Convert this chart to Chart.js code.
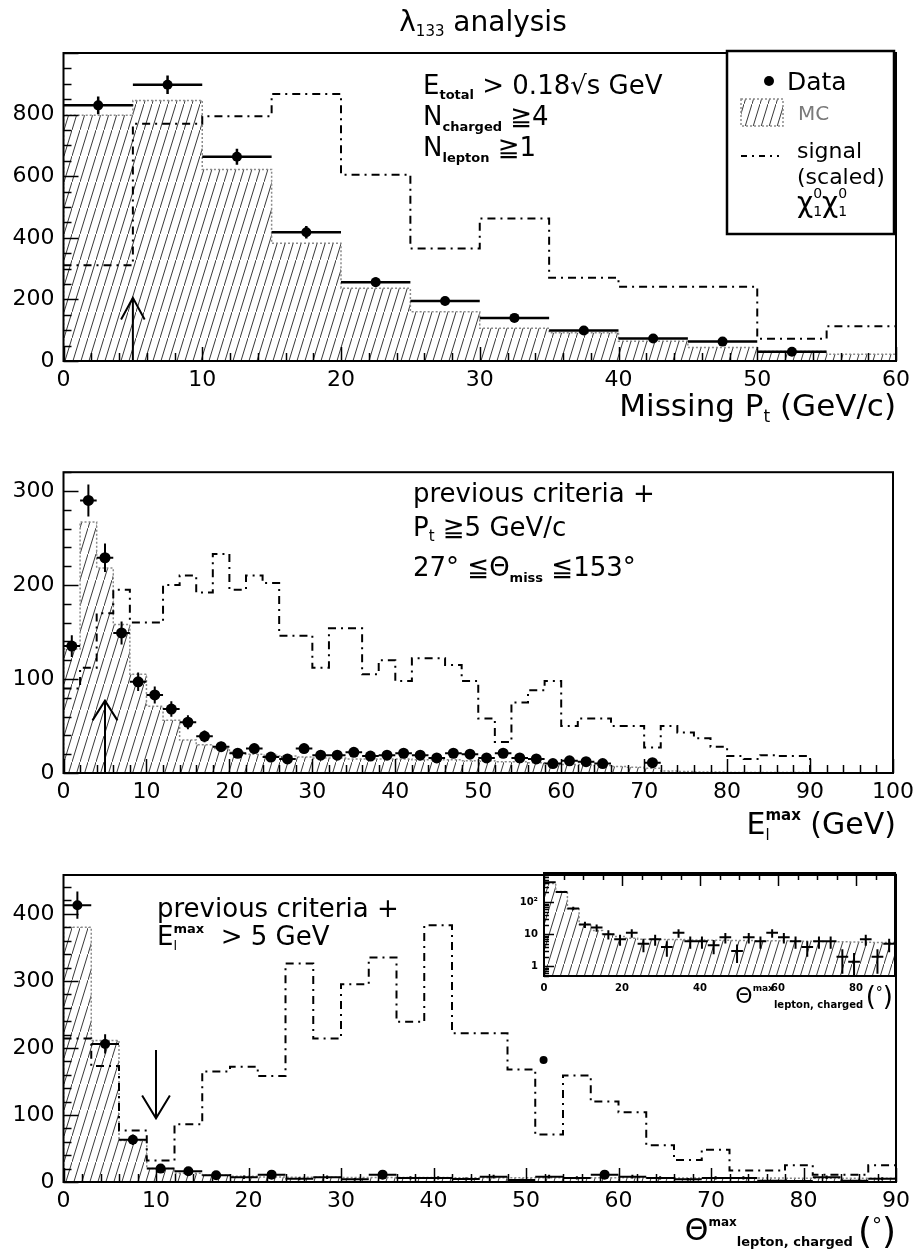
<!DOCTYPE html>
<html>
<head>
<meta charset="utf-8">
<script src="https://cdn.jsdelivr.net/npm/chart.js@4.4.1/dist/chart.umd.min.js"></script>
<style>
html,body{margin:0;padding:0;background:#fff;}
#wrap{position:relative;width:920px;height:1249px;overflow:hidden;background:#fff;}
canvas{position:absolute;display:block;}
</style>
</head>
<body>
<div id="wrap">
<canvas id="c1" width="920" height="450" style="left:0;top:0;"></canvas>
<canvas id="c2" width="920" height="400" style="left:0;top:450px;"></canvas>
<canvas id="c3" width="920" height="399" style="left:0;top:850px;"></canvas>
<canvas id="c4" width="420" height="160" style="left:500px;top:860px;"></canvas>
</div>
<script>
// ---------------- DATA ----------------
// Panel 1: Missing Pt (GeV/c)
const ptEdges  = [0,5,10,15,20,25,30,35,40,45,50,55,60];
const ptData   = [830,897,663,418,256,195,140,99,73,63,30,null];
const ptMC     = [798,846,622,382,236,160,106,92,64,44,31,22];
const ptSignal = [311,770,795,867,605,365,463,270,241,241,72,113];
const ptCut    = 5;
const ptXTicks = [0,10,20,30,40,50,60];
const ptYTicks = [0,200,400,600,800];

// Panel 2: E_l^max (GeV)
const elEdges  = [0,2,4,6,8,10,12,14,16,18,20,22,24,26,28,30,32,34,36,38,40,42,44,46,48,50,
                  52,54,56,58,60,62,64,66,68,70,72,74,76,78,80,82,84,86,88,90,92,94,96,98,100];
const elData   = [135,290,229,149,97,83,68,54,39,28,21,26,17,15,26,19,19,22,18,19,21,19,16,21,20,16,
                  21,16,15,10,13,12,10,null,null,11,null,null,null,null,null,null,null,null,null,null,null,null,null,null];
const elMC     = [132,267,218,158,105,71,56,35,30,26,22,20,19,18,17,16,16,15,15,15,15,14,14,14,13,13,
                  12,12,11,10,9,9,8,7,6,5,2,1.5,1,1,0.5,0.5,0.5,0.5,0.5,0,0,0,0,0];
const elSignal = [90,112,170,195,160,160,200,210,192,233,195,210,202,146,146,112,154,154,105,120,
                  98,122,122,115,98,58,33,75,88,98,50,58,58,50,50,27,50,43,37,28,18,15,19,18,18,0,0,0,0,0];
const elCut    = 5;
const elXTicks = [0,10,20,30,40,50,60,70,80,90,100];
const elYTicks = [0,100,200,300];

// Panel 3: Theta^max lepton, charged (deg)
const thEdges  = [0,3,6,9,12,15,18,21,24,27,30,33,36,39,42,45,48,51,54,57,60,63,66,69,72,75,78,81,84,87,90];
const thData   = [413,206,63,20,16,10,7,11,5,7,4,11,6,6,4.5,8,3,8,6,11,8,6,4,6,6,2,1.4,7,2,5];
const thMC     = [380,211,62,20,13,10,8.5,7.5,7,7,6.8,6.8,6.6,6.6,6.5,6.5,6.4,6.4,6.3,6.3,6.2,6.1,6,5.9,5.8,5.8,5.7,5.6,5.5,5.5];
const thSignal = [214,173,77,32,86,165,172,158,326,214,295,335,239,383,222,222,168,71,159,120,104,55,33,48,17,17,25,11,11,25];
const thStray  = [{x:51.9, y:182}];
const thCut    = 10;
const thXTicks = [0,10,20,30,40,50,60,70,80,90];
const thYTicks = [0,100,200,300,400];

// Inset (log scale)
const inXTicks  = [0,20,40,60,80];
const inYTicks  = [1,10,100];
const inYLabels = ['1','10','10²'];

// ---------------- HELPERS ----------------
const FAM = "'DejaVu Sans', 'Liberation Sans', sans-serif";

function makeHatch(){
  const c = document.createElement('canvas'); c.width = 8; c.height = 26;
  const g = c.getContext('2d');
  g.fillStyle = '#fff'; g.fillRect(0,0,8,26);
  g.strokeStyle = '#222'; g.lineWidth = 0.9;
  g.beginPath(); g.moveTo(-1, 29.25); g.lineTo(9, -3.25); g.stroke();
  return g.createPattern(c, 'repeat');
}

function stepPts(edges, vals, close){
  const p = [];
  if (close) p.push({x: edges[0], y: 0});
  vals.forEach((v,i) => p.push({x: edges[i], y: v}));
  p.push({x: edges[vals.length], y: vals[vals.length-1]});
  if (close) p.push({x: edges[vals.length], y: 0});
  return p;
}
function errPts(edges, vals){
  const p = [];
  vals.forEach((v,i) => {
    if (v == null) return;
    const lo = edges[i], hi = edges[i+1], c = (lo+hi)/2, e = Math.sqrt(v);
    p.push({x:lo,y:v},{x:hi,y:v},{x:c,y:null},{x:c,y:v-e},{x:c,y:v+e},{x:c,y:null});
  });
  return p;
}
function markPts(edges, vals){
  const p = [];
  vals.forEach((v,i) => { if (v != null) p.push({x:(edges[i]+edges[i+1])/2, y:v}); });
  return p;
}
function arrowPts(x, from, to, head, half){
  return [{x:x,y:from},{x:x,y:to},{x:x,y:null},{x:x-half,y:to-head},{x:x,y:to},{x:x+half,y:to-head}];
}

function T(t, s, dy, b, extra){ return Object.assign({t:t, s:s, dy:dy||0, b:!!b}, extra||{}); }
function rich(ctx, x, y, segs, al){
  const w = segs.map(s => { ctx.font = (s.b?'bold ':'') + s.s + 'px ' + FAM; return ctx.measureText(s.t).width; });
  let tot = 0, pend = 0;
  segs.forEach((s,i) => { if (s.na) pend = w[i]; else { tot += Math.max(w[i], pend); pend = 0; } });
  let cx = al === 'right' ? x - tot : al === 'center' ? x - tot/2 : x;
  pend = 0;
  ctx.textAlign = 'left'; ctx.textBaseline = 'alphabetic';
  segs.forEach((s,i) => {
    ctx.font = (s.b?'bold ':'') + s.s + 'px ' + FAM;
    ctx.fillStyle = s.c || '#000';
    ctx.fillText(s.t, cx, y + s.dy);
    if (s.na) pend = w[i]; else { cx += Math.max(w[i], pend); pend = 0; }
  });
}

function rootPlugin(cfg){
  return {
    id: 'root_' + Math.random().toString(36).slice(2),
    afterDatasetsDraw(chart){
      const ctx = chart.ctx, a = chart.chartArea;
      ctx.save();
      ctx.strokeStyle = '#000';
      for (const t of cfg.ticks || []) {
        const s = chart.scales[t.axis];
        ctx.lineWidth = t.lw || 1.5;
        const list = [];
        if (t.log) {
          for (let e = Math.floor(Math.log10(s.min)); e <= Math.ceil(Math.log10(s.max)); e++)
            for (let m = 1; m < 10; m++) { const v = m * Math.pow(10, e); if (v >= s.min*0.999 && v <= s.max*1.001) list.push([v, m === 1]); }
        } else {
          const n = Math.round((s.max - s.min) / t.minor);
          for (let i = 0; i <= n; i++) {
            const v = s.min + i * t.minor;
            if (v > s.max + 1e-9) break;
            list.push([v, Math.abs(v / t.major - Math.round(v / t.major)) < 1e-6]);
          }
        }
        for (const [v, maj] of list) {
          const p = Math.round(s.getPixelForValue(v)) + 0.5;
          const L = maj ? t.maj : t.min;
          ctx.beginPath();
          if (t.side === 'bottom') { ctx.moveTo(p, a.bottom); ctx.lineTo(p, a.bottom - L); }
          else if (t.side === 'top') { ctx.moveTo(p, a.top); ctx.lineTo(p, a.top + L); }
          else { ctx.moveTo(a.left, p); ctx.lineTo(a.left + L, p); }
          ctx.stroke();
        }
      }
      ctx.lineWidth = cfg.frame || 2;
      ctx.strokeRect(a.left, a.top, a.right - a.left, a.bottom - a.top);
      ctx.restore();
    },
    afterDraw(chart){
      const ctx = chart.ctx;
      ctx.save();
      if (cfg.legend) cfg.legend(ctx);
      for (const it of cfg.texts || []) rich(ctx, it.x - (cfg.offX||0), it.y - (cfg.offY||0), it.segs, it.al);
      ctx.restore();
    }
  };
}

const hatch = makeHatch();

function histSets(edges, mc, sig, data, opt){
  const sets = [];
  sets.push({label:'MC', data: stepPts(edges, mc, opt.close !== false), stepped:true, fill: opt.fillTo || 'origin',
    backgroundColor: hatch, borderColor:'#8a8a8a', borderWidth:1.5, borderDash:[2,2], pointRadius:0, order:5});
  if (sig) sets.push({label:'signal', data: stepPts(edges, sig, false), stepped:true, fill:false,
    borderColor:'#000', borderWidth:2, borderDash:[8,5,2,5], pointRadius:0, order:4});
  sets.push({label:'err', data: errPts(edges, data), fill:false, borderColor:'#000', borderWidth: opt.errW || 2,
    pointRadius:0, spanGaps:false, order:3});
  if (opt.markers !== false) sets.push({type:'scatter', label:'Data', data: markPts(edges, data), showLine:false,
    pointRadius: opt.radius || 5, pointBackgroundColor:'#000', pointBorderWidth:0, pointStyle:'circle', order:2});
  return sets;
}

function makeChart(id, o){
  return new Chart(document.getElementById(id), {
    type: 'line',
    data: { datasets: o.datasets },
    options: {
      responsive:false, animation:false, devicePixelRatio:1, events:[],
      layout: { padding: { top:o.padTop, right:o.padRight, left:0, bottom:0 } },
      elements: { line: { tension:0 } },
      plugins: { legend:{display:false}, tooltip:{enabled:false} },
      scales: {
        x: { type:'linear', min:o.xmin, max:o.xmax, grid:{display:false, drawTicks:false}, border:{display:false},
             ticks:{ autoSkip:false, maxRotation:0, padding:o.xpad, color:'#000',
                     font:{family:FAM, size:o.tsize, weight:o.tweight||'normal'}, callback:o.xcb || (v => v) },
             afterBuildTicks(s){ s.ticks = o.xticks.map(v => ({value:v})); },
             afterFit(s){ s.height = o.xh; } },
        y: { type: o.ylog ? 'logarithmic' : 'linear', min:o.ymin, max:o.ymax, grid:{display:false, drawTicks:false}, border:{display:false},
             ticks:{ autoSkip:false, padding:o.ypad, color:'#000',
                     font:{family:FAM, size:o.tsize, weight:o.tweight||'normal'}, callback:o.ycb || (v => v) },
             afterBuildTicks(s){ s.ticks = o.yticks.map(v => ({value:v})); },
             afterFit(s){ s.width = o.yw; } }
      }
    },
    plugins: [rootPlugin(o.root)]
  });
}

// ---------------- PANEL 1 ----------------
const set1 = histSets(ptEdges, ptMC, ptSignal, ptData, {errW:2.5, radius:5});
set1.push({label:'cut', data: arrowPts(ptCut, 0, 205, 70, 0.85), borderColor:'#000', borderWidth:2, pointRadius:0, fill:false, order:1});
makeChart('c1', {
  datasets:set1, padTop:53, padRight:24, xmin:0, xmax:60, ymin:0, ymax:1000,
  xticks:ptXTicks, yticks:ptYTicks,
  xh:89, yw:63.5, xpad:6, ypad:9, tsize:22,
  root: {
    offY:0, frame:2,
    ticks:[{axis:'x', side:'bottom', minor:2, major:10, maj:14, min:8},
           {axis:'y', side:'left', minor:50, major:200, maj:15, min:8}],
    texts:[
      {x:483, y:31, al:'center', segs:[T('λ',28), T('133',15,5), T(' analysis',28)]},
      {x:423, y:94, segs:[T('E',26), T('total',13,5,true), T(' > 0.18√s GeV',26)]},
      {x:423, y:125, segs:[T('N',26), T('charged',13,6,true), T(' ≧4',26)]},
      {x:423, y:156, segs:[T('N',26), T('lepton',13,6,true), T(' ≧1',26)]},
      {x:896, y:416, al:'right', segs:[T('Missing P',31), T('t',17,6), T(' (GeV/c)',31)]}
    ],
    legend(ctx){
      ctx.fillStyle = '#fff'; ctx.fillRect(727,51,167,183);
      ctx.strokeStyle = '#000'; ctx.lineWidth = 2.5; ctx.strokeRect(727,51,167,183);
      ctx.fillStyle = '#000'; ctx.beginPath(); ctx.arc(769,81,5,0,Math.PI*2); ctx.fill();
      rich(ctx, 787, 90, [T('Data',25)]);
      ctx.fillStyle = hatch; ctx.fillRect(741,99,42,27);
      ctx.strokeStyle = '#8a8a8a'; ctx.lineWidth = 1.5; ctx.setLineDash([2,2]); ctx.strokeRect(741,99,42,27);
      rich(ctx, 798, 120, [T('MC',20,0,false,{c:'#7a7a7a'})]);
      ctx.strokeStyle = '#000'; ctx.lineWidth = 2; ctx.setLineDash([6,5,2,5]);
      ctx.beginPath(); ctx.moveTo(741,156); ctx.lineTo(779,156); ctx.stroke(); ctx.setLineDash([]);
      rich(ctx, 797, 158, [T('signal',22)]);
      rich(ctx, 797, 184, [T('(scaled)',22)]);
      rich(ctx, 797, 212, [T('χ',28), T('0',14,-14,false,{na:true}), T('1',14,4), T('χ',28), T('0',14,-14,false,{na:true}), T('1',14,4)]);
    }
  }
});

// ---------------- PANEL 2 ----------------
const set2 = histSets(elEdges, elMC, elSignal, elData, {errW:2, radius:5.5});
set2.push({label:'cut', data: arrowPts(elCut, 0, 77, 21, 1.5), borderColor:'#000', borderWidth:2, pointRadius:0, fill:false, order:1});
makeChart('c2', {
  datasets:set2, padTop:15, padRight:24, xmin:0, xmax:100, ymin:0, ymax:320,
  xticks:elXTicks, yticks:elYTicks,
  xh:77, yw:63.5, xpad:6, ypad:9, tsize:22,
  root: {
    offY:450, frame:2,
    ticks:[{axis:'x', side:'bottom', minor:2, major:10, maj:14, min:8},
           {axis:'y', side:'left', minor:20, major:100, maj:15, min:8}],
    texts:[
      {x:413, y:502, segs:[T('previous criteria +',26)]},
      {x:413, y:536, segs:[T('P',26), T('t',15,5), T(' ≧5 GeV/c',26)]},
      {x:413, y:576, segs:[T('27° ≦Θ',26), T('miss',13,6,true), T(' ≦153°',26)]},
      {x:896, y:834, al:'right', segs:[T('E',30), T('max',15,-14,true,{na:true}), T('l',15,6), T(' (GeV)',30)]}
    ]
  }
});

// ---------------- PANEL 3 ----------------
const set3 = histSets(thEdges, thMC, thSignal, thData, {errW:2, markers:false});
set3.push({type:'scatter', label:'Data', data: markPts(thEdges, thData), showLine:false,
  pointRadius: c => (c.raw && c.raw.y >= 9 ? 5 : 0), pointBackgroundColor:'#000', pointBorderWidth:0, order:2});
set3.push({type:'scatter', label:'stray', data: thStray, showLine:false, pointRadius:4, pointBackgroundColor:'#000', pointBorderWidth:0, order:2});
set3.push({label:'cut', data: arrowPts(thCut, 197, 95, -34, 1.5), borderColor:'#000', borderWidth:2, pointRadius:0, fill:false, order:1});
makeChart('c3', {
  datasets:set3, padTop:25, padRight:24, xmin:0, xmax:90, ymin:0, ymax:458,
  xticks:thXTicks, yticks:thYTicks,
  xh:67, yw:63.5, xpad:6, ypad:9, tsize:22,
  root: {
    offY:850, frame:2,
    ticks:[{axis:'x', side:'bottom', minor:2, major:10, maj:14, min:8},
           {axis:'y', side:'left', minor:20, major:100, maj:15, min:8}],
    texts:[
      {x:157, y:917, segs:[T('previous criteria +',26)]},
      {x:157, y:945, segs:[T('E',26), T('max',13,-12,true,{na:true}), T('l',13,5), T('  > 5 GeV',26)]},
      {x:896, y:1240, al:'right', segs:[T('Θ',30), T('max',12,-14,true), T('lepton, charged',13,6,true), T(' ',16),
                                        T('(',36,3), T('°',20,-8), T(')',36,3)]}
    ]
  }
});

// ---------------- INSET (log) ----------------
const set4 = histSets(thEdges, thMC, null, thData, {errW:2, markers:false, close:false, fillTo:'start'});
makeChart('c4', {
  datasets:set4, padTop:13, padRight:25, xmin:0, xmax:90, ymin:0.5, ymax:800, ylog:true,
  xticks:inXTicks, yticks:inYTicks,
  xh:44, yw:44, xpad:6, ypad:6, tsize:10, tweight:'bold',
  ycb: (v, i) => inYLabels[i],
  root: {
    offX:500, offY:860, frame:2,
    ticks:[{axis:'x', side:'top', minor:5, major:20, maj:13, min:7},
           {axis:'y', side:'left', log:true, maj:10, min:5}],
    texts:[
      {x:893, y:1003, al:'right', segs:[T('Θ',22), T('max',9,-12,true), T('lepton, charged',10,5,true), T(' ',8),
                                        T('(',26,2), T('°',14,-6), T(')',26,2)]}
    ]
  }
});
</script>
</body>
</html>
